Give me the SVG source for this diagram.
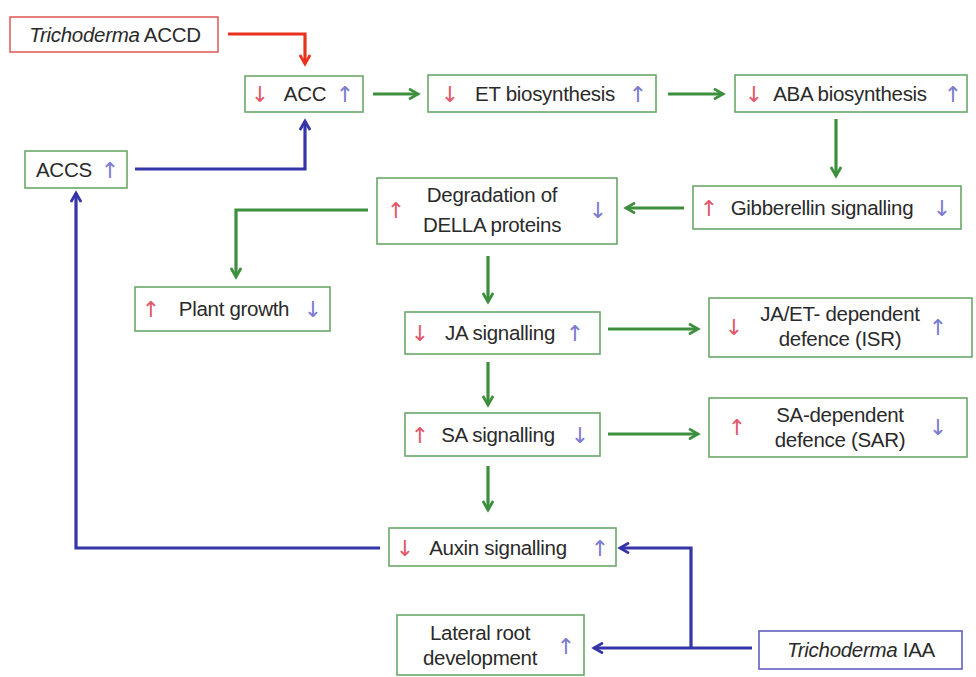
<svg xmlns="http://www.w3.org/2000/svg" width="976" height="677" viewBox="0 0 976 677">
<style>
.box{fill:#fff;stroke:#6aa86a;stroke-width:1.6}
.t{font-family:"Liberation Sans",Arial,sans-serif;font-size:20.5px;fill:#2a2a2a;letter-spacing:-0.3px}
.m{text-anchor:middle}
.r{font-family:"DejaVu Sans",sans-serif;font-size:22px;fill:#e0586a;text-anchor:middle}
.b{font-family:"DejaVu Sans",sans-serif;font-size:22px;fill:#7a7ad0;text-anchor:middle}
.g{fill:none;stroke:#3d8f3d;stroke-width:3.2}
.bl{fill:none;stroke:#3535a8;stroke-width:3.2}
.rd{fill:none;stroke:#e8321e;stroke-width:3.2}
</style>
<defs>
<marker id="ag" viewBox="0 0 10 10" refX="8" refY="5" markerWidth="4" markerHeight="4" orient="auto" markerUnits="strokeWidth"><path d="M1,1 L8,5 L1,9" fill="none" stroke="#3d8f3d" stroke-width="2.2"/></marker>
<marker id="ab" viewBox="0 0 10 10" refX="8" refY="5" markerWidth="4" markerHeight="4" orient="auto" markerUnits="strokeWidth"><path d="M1,1 L8,5 L1,9" fill="none" stroke="#3535a8" stroke-width="2.2"/></marker>
<marker id="ar" viewBox="0 0 10 10" refX="8" refY="5" markerWidth="4" markerHeight="4" orient="auto" markerUnits="strokeWidth"><path d="M1,1 L8,5 L1,9" fill="none" stroke="#e8321e" stroke-width="2.2"/></marker>
</defs>
<rect width="976" height="677" fill="#fff"/>
<g id="connectors">
<path class="rd" d="M228,34 H305 V64" marker-end="url(#ar)"/>
<path class="bl" d="M135,169 H305 V121" marker-end="url(#ab)"/>
<path class="g" d="M373,94 H418" marker-end="url(#ag)"/>
<path class="g" d="M668,94 H723" marker-end="url(#ag)"/>
<path class="g" d="M836,119 V176" marker-end="url(#ag)"/>
<path class="g" d="M684,208 H626" marker-end="url(#ag)"/>
<path class="g" d="M368,210 H236 V277" marker-end="url(#ag)"/>
<path class="g" d="M488,256 V302" marker-end="url(#ag)"/>
<path class="g" d="M608,329 H698" marker-end="url(#ag)"/>
<path class="g" d="M488,362 V405" marker-end="url(#ag)"/>
<path class="g" d="M608,434 H698" marker-end="url(#ag)"/>
<path class="g" d="M488,466 V510" marker-end="url(#ag)"/>
<path class="bl" d="M380,548 H76 V193" marker-end="url(#ab)"/>
<path class="bl" d="M752,648 H594" marker-end="url(#ab)"/>
<path class="bl" d="M691,648 V548 H620" marker-end="url(#ab)"/>
</g>
<g id="accd"><rect x="10" y="17" width="208" height="35" fill="#fff" stroke="#e06060" stroke-width="1.6"/><text class="t m" x="115" y="42"><tspan font-style="italic">Trichoderma</tspan> ACCD</text></g>
<g id="acc"><rect class="box" x="245" y="76" width="118" height="36"/><text class="r" x="260" y="102">↓</text><text class="t m" x="305" y="101">ACC</text><text class="b" x="345" y="102">↑</text></g>
<g id="accs"><rect class="box" x="25" y="151" width="102" height="37"/><text class="t" x="36" y="177">ACCS</text><text class="b" x="110" y="178">↑</text></g>
<g id="et"><rect class="box" x="428" y="75" width="228" height="37"/><text class="r" x="450" y="102">↓</text><text class="t m" x="545" y="101">ET biosynthesis</text><text class="b" x="638" y="102">↑</text></g>
<g id="aba"><rect class="box" x="735" y="75" width="232" height="37"/><text class="r" x="754" y="102">↓</text><text class="t m" x="850" y="101">ABA biosynthesis</text><text class="b" x="953" y="102">↑</text></g>
<g id="gib"><rect class="box" x="693" y="186" width="268" height="43"/><text class="r" x="709" y="216">↑</text><text class="t m" x="822" y="215">Gibberellin signalling</text><text class="b" x="942" y="216">↓</text></g>
<g id="della"><rect class="box" x="377" y="178" width="240" height="66"/><text class="r" x="396" y="218">↑</text><text class="t m" x="492" y="202">Degradation of</text><text class="t m" x="492" y="232">DELLA proteins</text><text class="b" x="598" y="218">↓</text></g>
<g id="plant"><rect class="box" x="135" y="287" width="195" height="44"/><text class="r" x="151" y="317">↑</text><text class="t m" x="234" y="316">Plant growth</text><text class="b" x="313" y="317">↓</text></g>
<g id="ja"><rect class="box" x="405" y="312" width="195" height="42"/><text class="r" x="420" y="341">↓</text><text class="t m" x="500" y="340">JA signalling</text><text class="b" x="575" y="341">↑</text></g>
<g id="isr"><rect class="box" x="709" y="298" width="263" height="59"/><text class="r" x="734" y="335">↓</text><text class="t m" x="840" y="321">JA/ET- dependent</text><text class="t m" x="840" y="346">defence (ISR)</text><text class="b" x="938" y="335">↑</text></g>
<g id="sa"><rect class="box" x="405" y="413" width="195" height="43"/><text class="r" x="420" y="443">↑</text><text class="t m" x="498" y="442">SA signalling</text><text class="b" x="580" y="443">↓</text></g>
<g id="sar"><rect class="box" x="709" y="398" width="258" height="59"/><text class="r" x="737" y="435">↑</text><text class="t m" x="840" y="422">SA-dependent</text><text class="t m" x="840" y="447">defence (SAR)</text><text class="b" x="938" y="435">↓</text></g>
<g id="auxin"><rect class="box" x="389" y="528" width="227" height="38"/><text class="r" x="405" y="556">↓</text><text class="t m" x="498" y="555">Auxin signalling</text><text class="b" x="600" y="556">↑</text></g>
<g id="lateral"><rect class="box" x="397" y="615" width="187" height="60"/><text class="t m" x="480" y="640">Lateral root</text><text class="t m" x="480" y="665">development</text><text class="b" x="566" y="654">↑</text></g>
<g id="iaa"><rect x="759" y="631" width="203" height="38" fill="#fff" stroke="#6060c0" stroke-width="1.6"/><text class="t m" x="861" y="657"><tspan font-style="italic">Trichoderma</tspan> IAA</text></g>
</svg>
